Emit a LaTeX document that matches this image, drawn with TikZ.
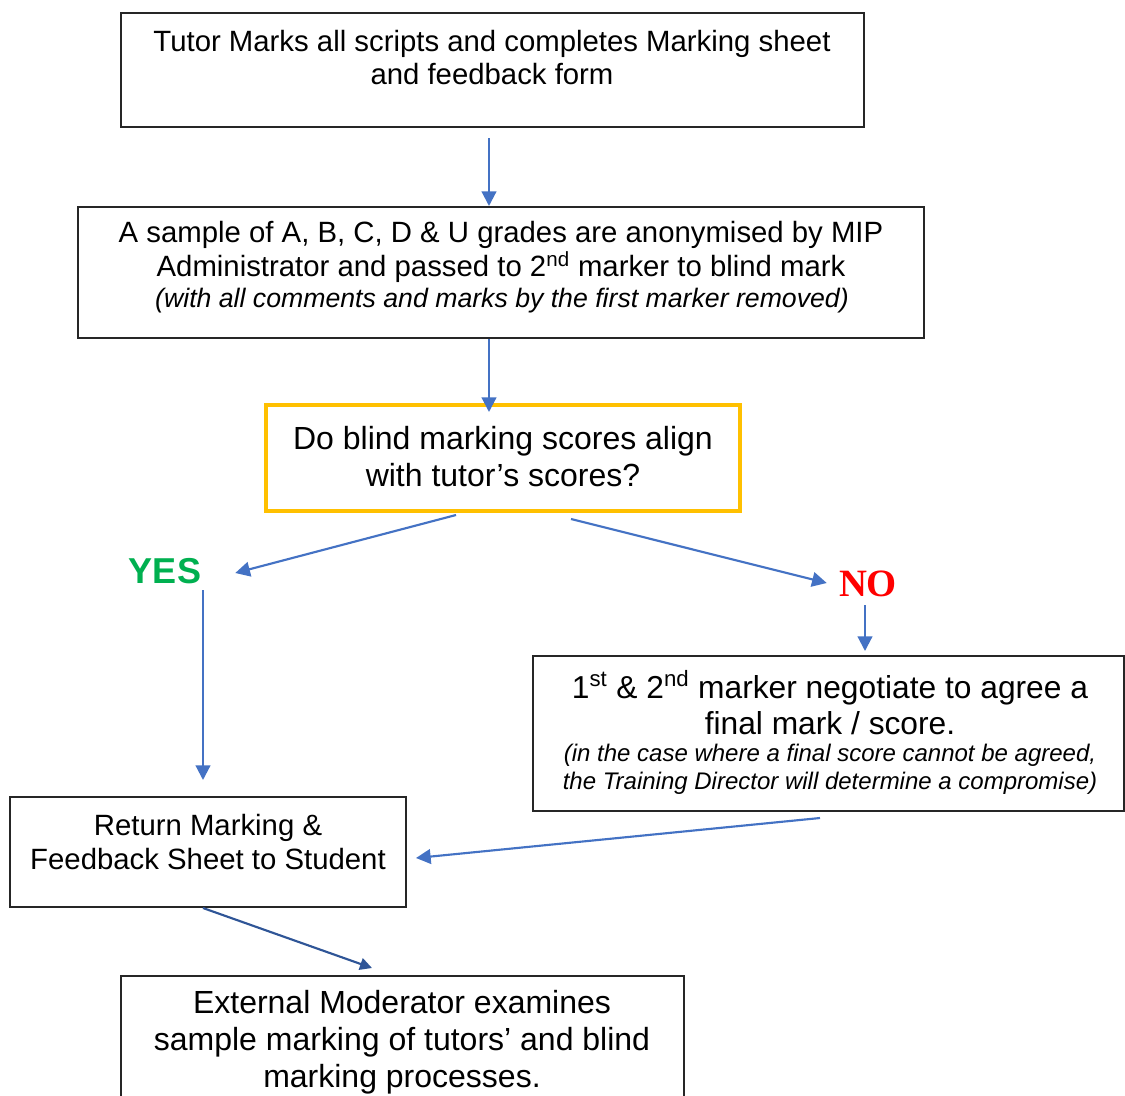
\documentclass[tikz,border=0pt]{standalone}
\usepackage{fontspec}
\setmainfont{Liberation Sans}
\newfontfamily\serifbold{Liberation Serif}
\usetikzlibrary{arrows.meta,calc}
\definecolor{arrowblue}{HTML}{4472C4}
\definecolor{darkarrow}{HTML}{2F5597}
\definecolor{decorange}{HTML}{FFC000}
\definecolor{yesgreen}{HTML}{00B050}
\definecolor{nored}{HTML}{FF0000}
\begin{document}
\begin{tikzpicture}[x=0.75pt,y=-0.75pt,
  box/.style={draw=black!85, line width=0.9pt, inner sep=0pt, outer sep=0pt, fill=white},
  decbox/.style={draw=decorange, line width=3pt, inner sep=0pt, outer sep=0pt, fill=white},
  txt/.style={inner sep=0pt, align=center},
  arr/.style={draw=arrowblue, line width=1.6pt, -{Triangle[length=11pt,width=11pt]}},
  darr/.style={draw=darkarrow, line width=1.6pt, -{Triangle[length=9pt,width=9pt]}}]
\clip (0,0) rectangle (1125,1096);
\fill[white] (0,0) rectangle (1125,1096);
% boxes
\node[box, minimum width=557.25pt, minimum height=85.5pt] (b1) at (492.5,70) {};
\node[box, minimum width=634.5pt, minimum height=98.25pt] (b2) at (501,272.5) {};
\node[decbox, minimum width=355.5pt, minimum height=79.5pt] (b3) at (503,458) {};
\node[box, minimum width=443.25pt, minimum height=116.25pt] (b4) at (828.5,733.5) {};
\node[box, minimum width=297pt, minimum height=82.5pt] (b5) at (208,852) {};
\node[box, minimum width=422.25pt, minimum height=115.5pt] (b6) at (402.5,1053) {};
% texts
\node[txt, font=\fontsize{22}{24.75}\selectfont] (t1) at (492,57.5)
  {Tutor Marks all scripts and completes Marking sheet\\and feedback form};
\node[txt, font=\fontsize{22}{25.5}\selectfont] (t2) at (501,252)
  {A sample of A, B, C, D \& U grades are anonymised by MIP\\Administrator and passed to 2\textsuperscript{nd} marker to blind mark};
\node[txt, font=\fontsize{20}{23}\itshape] (t2n) at (502,301)
  {(with all comments and marks by the first marker removed)};
\node[txt, font=\fontsize{24}{27.75}\selectfont] (t3) at (503,456.5)
  {Do blind marking scores align\\with tutor’s scores?};
\node[txt, font=\fontsize{23.8}{27}\selectfont] (t4) at (830,702.5)
  {1\textsuperscript{st} \& 2\textsuperscript{nd} marker negotiate to agree a\\final mark / score.};
\node[txt, font=\fontsize{18}{21}\itshape] (t4n) at (830,769)
  {(in the case where a final score cannot be agreed,\\the Training Director will determine a compromise)};
\node[txt, font=\fontsize{22}{25.5}\selectfont] (t5) at (208,842)
  {Return Marking \&\\Feedback Sheet to Student};
\node[txt, font=\fontsize{24}{27.75}\selectfont] (t6) at (402,1042)
  {External Moderator examines\\sample marking of tutors’ and blind\\marking processes.};
\node[inner sep=0pt, text=yesgreen, font=\fontsize{27}{30}\bfseries] (yes) at (165,571) {YES};
\node[inner sep=0pt, text=nored, font=\fontsize{29}{32}\serifbold\bfseries] (no) at (868,584) {NO};
% connectors
\draw[arr] ($(b1.south)+(-3.5,11)$) -- ($(b2.north)+(-12,-1)$);
\draw[arr] ($(b2.south)+(-12,1)$) -- ($(b3.north)+(-14,7)$);
\draw[arr] ($(b3.south)+(-47,4)$) -- ($(yes.east)+(34,2)$);
\draw[arr] ($(b3.south)+(68,8)$) -- ($(no.west)+(-12,-1)$);
\draw[arr] ($(no.south)+(-3,8)$) -- ($(b4.north)+(36.5,-5)$);
\draw[arr] ($(yes.south)+(38,6)$) -- ($(b5.north)+(-5,-17)$);
\draw[arr] ($(b4.south)+(-8.5,7)$) -- ($(b5.east)+(10,6)$);
\draw[darr] ($(b5.south)+(-5,1)$) -- ($(b6.north)+(-30.5,-8)$);
\end{tikzpicture}
\end{document}
